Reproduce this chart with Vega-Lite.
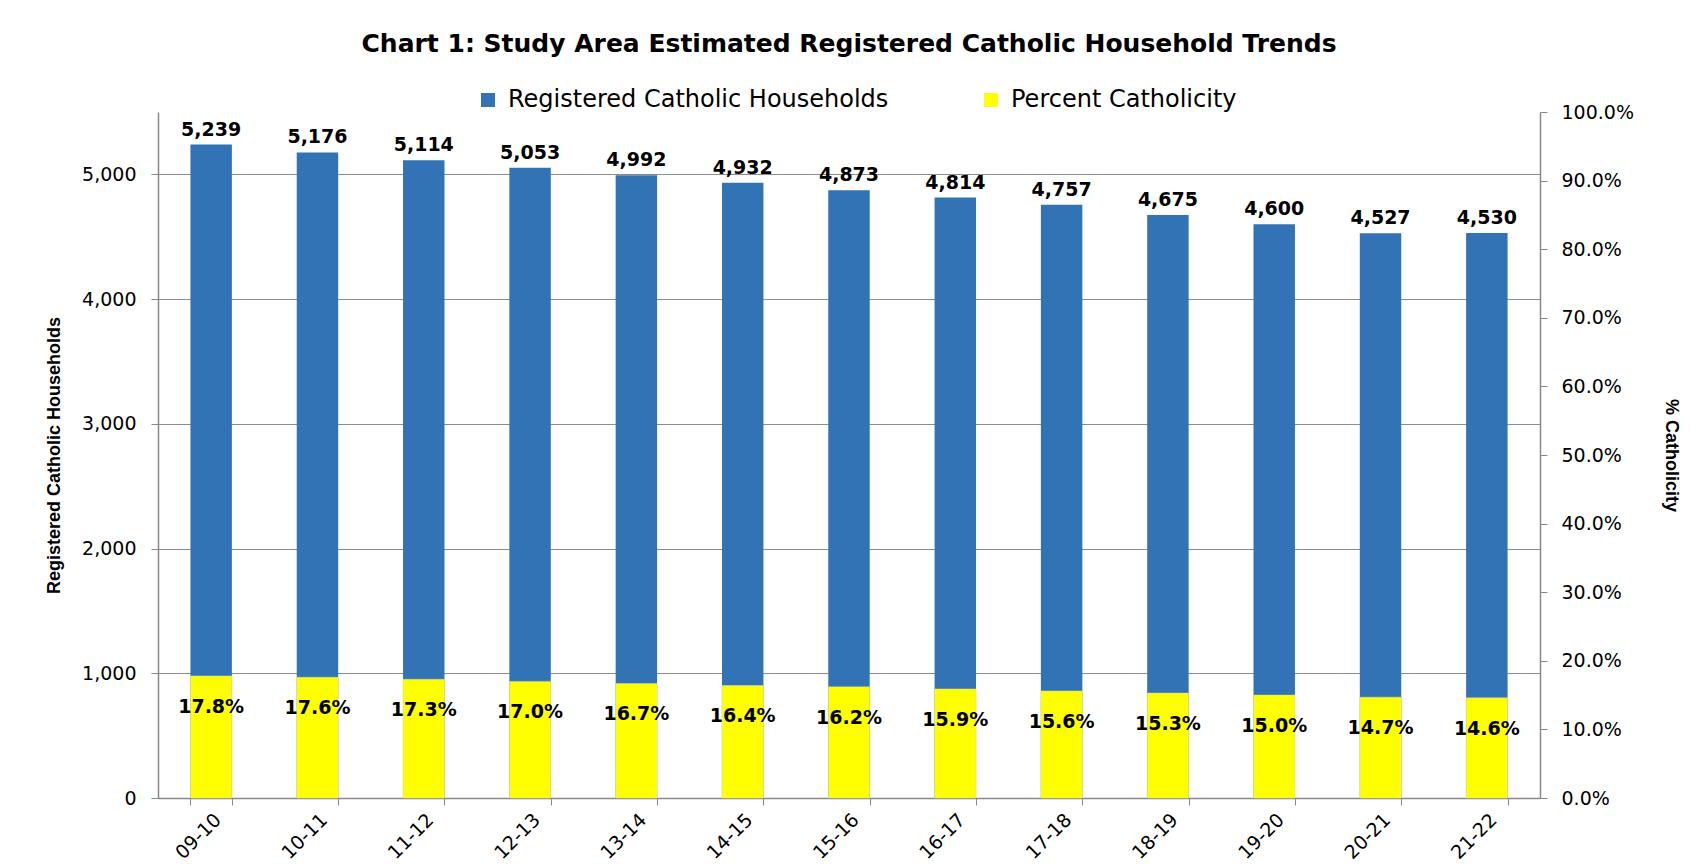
{
  "$schema": "https://vega.github.io/schema/vega-lite/v6.json",
  "width": 1382,
  "height": 686,
  "autosize": {"type": "none"},
  "padding": {"left": 158, "top": 112, "right": 165, "bottom": 67},
  "background": "white",
  "title": {
    "text": "Chart 1: Study Area Estimated Registered Catholic Household Trends",
    "font": "DejaVu Sans",
    "fontSize": 25,
    "fontWeight": "bold",
    "color": "black",
    "anchor": "middle",
    "frame": "group",
    "offset": 31
  },
  "config": {
    "view": {"stroke": null},
    "font": "DejaVu Sans"
  },
  "data": {
    "values": [
      {"year": "09-10", "households": 5239, "pct": 0.178},
      {"year": "10-11", "households": 5176, "pct": 0.176},
      {"year": "11-12", "households": 5114, "pct": 0.173},
      {"year": "12-13", "households": 5053, "pct": 0.170},
      {"year": "13-14", "households": 4992, "pct": 0.167},
      {"year": "14-15", "households": 4932, "pct": 0.164},
      {"year": "15-16", "households": 4873, "pct": 0.162},
      {"year": "16-17", "households": 4814, "pct": 0.159},
      {"year": "17-18", "households": 4757, "pct": 0.156},
      {"year": "18-19", "households": 4675, "pct": 0.153},
      {"year": "19-20", "households": 4600, "pct": 0.150},
      {"year": "20-21", "households": 4527, "pct": 0.147},
      {"year": "21-22", "households": 4530, "pct": 0.146}
    ]
  },
  "encoding": {
    "x": {
      "field": "year",
      "type": "nominal",
      "sort": null,
      "scale": {"paddingInner": 0.61, "paddingOuter": 0.305},
      "axis": {
        "title": null,
        "labelAngle": -45,
        "labelFont": "DejaVu Sans",
        "labelFontSize": 19,
        "labelColor": "black",
        "labelPadding": 5,
        "tickBand": "extent",
        "tickSize": 7,
        "tickColor": "#888888",
        "domainColor": "#888888",
        "domainWidth": 1.5
      }
    }
  },
  "layer": [
    {
      "layer": [
        {
          "mark": {"type": "bar"},
          "encoding": {
            "y": {
              "field": "households",
              "type": "quantitative",
              "scale": {"domain": [0, 5500]},
              "axis": {
                "orient": "left",
                "values": [0, 1000, 2000, 3000, 4000, 5000],
                "format": ",.0f",
                "title": "Registered Catholic Households",
                "titleFont": "Liberation Sans Narrow, Liberation Sans",
                "titleFontSize": 18,
                "titleFontWeight": "bold",
                "titleColor": "black",
                "titlePadding": 18,
                "labelFont": "DejaVu Sans",
                "labelFontSize": 19,
                "labelColor": "black",
                "labelPadding": 15,
                "tickSize": 7,
                "tickColor": "#888888",
                "domainColor": "#888888",
                "domainWidth": 1.5,
                "grid": true,
                "gridColor": "#8c8c8c",
                "gridWidth": 1.2
              }
            },
            "color": {
              "datum": "Registered Catholic Households",
              "type": "nominal",
              "scale": {
                "domain": ["Registered Catholic Households", "Percent Catholicity"],
                "range": ["#3273B5", "#FFFF00"]
              },
              "legend": {
                "orient": "none",
                "legendX": 318,
                "legendY": -24,
                "direction": "horizontal",
                "title": null,
                "symbolType": "square",
                "symbolSize": 196,
                "symbolStrokeWidth": 0,
                "labelFont": "DejaVu Sans",
                "labelFontSize": 24,
                "labelColor": "black",
                "labelOffset": 8,
                "labelLimit": 0,
                "columnPadding": 90
              }
            }
          }
        },
        {
          "mark": {"type": "text", "baseline": "bottom", "dy": -5, "font": "DejaVu Sans", "fontWeight": "bold", "fontSize": 19, "color": "black"},
          "encoding": {
            "y": {"field": "households", "type": "quantitative"},
            "text": {"field": "households", "type": "quantitative", "format": ",.0f"}
          }
        }
      ]
    },
    {
      "layer": [
        {
          "mark": {"type": "bar", "stroke": "#d8d8a0", "strokeWidth": 0.5},
          "encoding": {
            "y": {
              "field": "pct",
              "type": "quantitative",
              "scale": {"domain": [0, 1]},
              "axis": {
                "orient": "right",
                "values": [0, 0.1, 0.2, 0.3, 0.4, 0.5, 0.6, 0.7, 0.8, 0.9, 1.0],
                "format": ".1%",
                "title": "% Catholicity",
                "titleFont": "Liberation Sans Narrow, Liberation Sans",
                "titleFontSize": 18,
                "titleFontWeight": "bold",
                "titleColor": "black",
                "titlePadding": 28,
                "labelFont": "DejaVu Sans",
                "labelFontSize": 19,
                "labelColor": "black",
                "labelPadding": 14,
                "tickSize": 7,
                "tickColor": "#888888",
                "domainColor": "#888888",
                "domainWidth": 1.5,
                "grid": false
              }
            },
            "color": {"datum": "Percent Catholicity", "type": "nominal"}
          }
        },
        {
          "mark": {"type": "text", "baseline": "middle", "dy": 31, "font": "DejaVu Sans", "fontWeight": "bold", "fontSize": 19, "color": "black"},
          "encoding": {
            "y": {"field": "pct", "type": "quantitative"},
            "text": {"field": "pct", "type": "quantitative", "format": ".1%"}
          }
        }
      ]
    }
  ],
  "resolve": {"scale": {"y": "independent"}}
}
